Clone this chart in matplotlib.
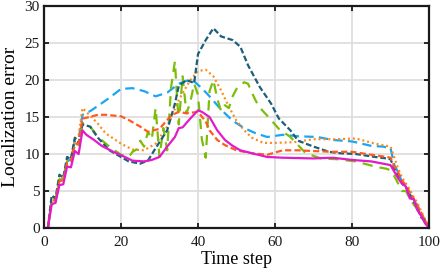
import numpy as np
import matplotlib
matplotlib.use("Agg")
import matplotlib.pyplot as plt

# time steps 1..10 shared rise
t_rise = [1, 2, 3, 4, 5, 6, 7, 8, 9, 10]
t_fall = [90, 91, 92, 93, 94, 95, 96, 97, 98, 99, 100]

# light blue, long dashes
blue_t = t_rise + [12, 14, 17, 20, 23, 26, 29, 32, 35, 37, 39, 41, 43, 46, 49, 52, 55, 58, 62, 66, 71, 75, 80, 85, 88] + t_fall
blue_v = [0, 3.6, 3.9, 6.5, 6.6, 9.0, 9.3, 11.8, 12.0, 15.3,
          15.8, 16.5, 17.6, 18.8, 18.9, 18.5, 17.8, 18.3, 19.5, 19.9, 19.8, 18.9, 17.8, 16.0, 14.5,
          13.5, 12.8, 12.3, 12.6, 12.4, 12.3, 11.9, 11.7, 11.1, 11.0,
          10.8, 8.5, 7.5, 6.2, 5.5, 4.6, 3.8, 3.0, 2.0, 0.9, 0]

# orange, dotted
orange_t = t_rise + [11, 14, 16, 20, 23, 26, 29, 32, 35, 38, 40, 42, 44, 46, 48, 50, 52, 54, 57, 60, 65, 70, 76, 81, 86, 89] + t_fall
orange_v = [0, 3.7, 4.0, 6.6, 6.8, 9.2, 9.5, 12.0, 12.5, 16.2,
            15.7, 14.1, 12.8, 11.4, 10.6, 10.5, 11.4, 13.7, 17.3, 20.0, 21.2, 21.4, 20.5, 18.6, 16.4, 14.5, 13.2, 12.2, 11.5, 11.5, 11.6, 12.0, 12.0, 12.1, 11.4, 11.1,
            11.0, 9.5, 8.0, 6.8, 6.0, 5.2, 4.2, 3.4, 2.2, 1.2, 0]

# dark teal, short dashes
teal_t = t_rise + [12, 14, 17, 20, 22, 25, 27, 29, 32, 34, 35, 37, 39, 40, 42, 44, 46, 49, 51, 53, 56, 59, 61, 64, 66, 70, 74, 77, 81, 86, 89] + t_fall
teal_v = [0, 4.4, 4.0, 7.2, 6.8, 9.6, 9.3, 12.2, 11.5, 14.0,
          13.7, 12.2, 10.5, 9.6, 9.0, 8.7, 9.1, 10.8, 13.2, 16.8, 19.2, 20.0, 19.6, 23.5, 25.4, 27.0, 25.9, 25.4, 24.5, 22.0, 19.1, 16.8, 14.8, 13.2, 11.8, 11.0, 10.3, 10.1, 10.0, 9.6, 9.4,
          9.3, 8.0, 7.0, 6.0, 5.5, 4.5, 3.6, 2.7, 1.4, 1.0, 0]

# green, long dashes, oscillating
green_t = t_rise + [12, 14, 17, 20, 22] + list(range(23, 57)) + [59, 61, 64, 66, 68, 72, 76, 81, 86, 89] + t_fall
green_v = [0, 3.8, 3.6, 6.6, 6.4, 9.0, 8.8, 11.5, 11.2, 14.2,
           13.7, 12.3, 11.0, 9.9, 9.6,
           10.3, 10.6, 11.8, 11.0, 13.0, 12.0, 16.2, 9.6, 13.5, 10.5, 19.0, 22.5, 14.0, 20.5, 15.5, 17.0, 19.5, 18.0, 12.0, 9.5,
           18.5, 20.0, 17.5, 15.8, 16.6, 16.2, 17.8, 18.8, 19.3, 19.7, 19.5, 18.3, 17.2, 16.3,
           14.6, 13.4, 12.3, 11.2, 10.1, 9.4, 9.3, 9.0, 8.3, 8.0,
           7.8, 7.0, 6.0, 5.0, 5.0, 4.0, 3.2, 2.5, 1.8, 0.8, 0]

# red-orange, medium dashes
red_t = t_rise + [11, 14, 16, 20, 22, 25, 27, 30, 33, 35, 37, 40, 42, 43, 45, 47, 50, 54, 58, 62, 66, 70, 75, 80, 85, 89] + t_fall
red_v = [0, 3.5, 3.8, 6.3, 6.5, 8.8, 9.0, 11.2, 11.5, 14.8,
         14.9, 15.3, 15.3, 15.1, 14.6, 13.7, 13.0, 13.4, 15.2, 15.7, 15.5, 15.7, 14.4, 13.2, 11.9, 11.2, 10.5, 10.1, 9.9, 10.5, 10.5, 10.4, 10.3, 10.3, 9.9, 9.6,
         9.5, 8.3, 7.5, 6.4, 5.8, 4.8, 4.0, 3.0, 2.0, 1.0, 0]

# magenta, solid
mag_t = t_rise + [11, 13, 15, 18, 21, 23, 26, 28, 30, 32, 34, 35, 36, 38, 40, 41, 43, 45, 47, 49, 51, 54, 58, 62, 70, 75, 80, 85, 89] + t_fall
mag_v = [0, 3.2, 3.4, 5.8, 5.9, 8.3, 8.2, 10.4, 10.0, 13.2,
         12.6, 11.9, 11.1, 10.3, 9.6, 9.1, 9.0, 9.2, 9.6, 11.0, 12.3, 13.5, 13.6, 14.8, 15.9, 15.7, 15.0, 13.2, 11.9, 11.1, 10.5, 10.1, 9.6, 9.5, 9.4, 9.5, 9.2, 9.0, 8.6,
         8.5, 7.6, 6.7, 6.0, 5.6, 4.0, 3.9, 2.4, 1.6, 0.6, 0]

xticks = [0, 20, 40, 60, 80, 100]
yticks = [0, 5, 10, 15, 20, 25, 30]

plt.rcParams['font.family'] = ['Liberation Serif', 'DejaVu Serif']

fig = plt.figure(figsize=(4.43, 2.76), dpi=100)
ax = fig.add_axes([0.0993, 0.174, 0.8691, 0.804])

lw = 1.6
ax.plot(blue_t, blue_v, color='#1aa6f0', lw=lw, dashes=(4.2, 2.4))
ax.plot(orange_t, orange_v, color='#ff8a1c', lw=lw, dashes=(0.9, 1.3))
ax.plot(green_t, green_v, color='#7cbd0a', lw=lw, dashes=(4.6, 3.2))
ax.plot(teal_t, teal_v, color='#1b5f78', lw=lw, dashes=(2.6, 1.2))
ax.plot(red_t, red_v, color='#ff5b20', lw=lw, dashes=(2.8, 1.4))
ax.plot(mag_t, mag_v, color='#e31ac8', lw=lw)

ax.set_xlim(0, 100)
ax.set_ylim(0, 30)
ax.set_xticks(xticks)
ax.set_yticks(yticks)
ax.grid(True, color='#dedede', lw=1.3)
ax.set_axisbelow(True)
for s in ax.spines.values():
    s.set_linewidth(1.6)
    s.set_color('#1a1a1a')
ax.tick_params(direction='in', length=3.5, width=1.3, top=True, right=True,
               labelsize=11, colors='#1a1a1a')
ax.tick_params(axis='x', pad=6)
ax.tick_params(axis='y', pad=3)
ax.set_xlabel('Time step', fontsize=13, labelpad=1)
ax.set_ylabel('Localization error', fontsize=14, labelpad=4)

fig.savefig('out.png', dpi=100)
